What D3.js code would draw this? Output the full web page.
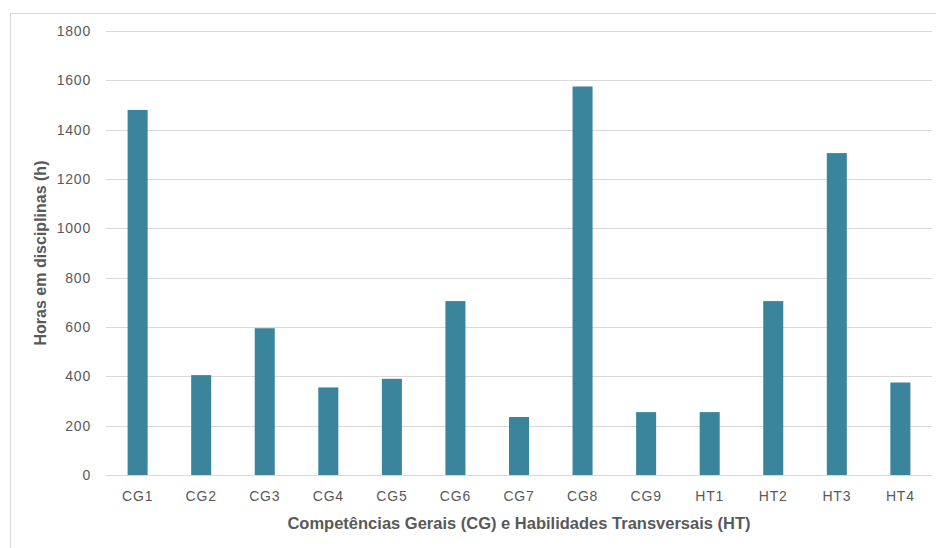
<!DOCTYPE html>
<html>
<head>
<meta charset="utf-8">
<script src="https://cdn.jsdelivr.net/npm/d3@7"></script>
<style>
  html, body { margin: 0; padding: 0; background: #fff; }
  svg { display: block; }
  text { font-family: "Liberation Sans", Arial, sans-serif; }
</style>
</head>
<body>
<svg id="chart" width="936" height="548"></svg>
<script>
// Hours of coursework per competence / transversal skill
const categories = ["CG1","CG2","CG3","CG4","CG5","CG6","CG7","CG8","CG9","HT1","HT2","HT3","HT4"];
const hours = [1480, 405, 595, 355, 390, 705, 235, 1575, 255, 255, 705, 1305, 375];
const yTicks = [0, 200, 400, 600, 800, 1000, 1200, 1400, 1600, 1800];

const svg = d3.select("#chart");
const W = 936, H = 548;
const m = { left: 106, right: 4, top: 31, bottom: 73 };

// chart frame
svg.append("rect")
  .attr("x", 10.5).attr("y", 13.5)
  .attr("width", W + 10).attr("height", H + 10)
  .attr("fill", "none").attr("stroke", "#d9d9d9").attr("stroke-width", 1);

const x = d3.scaleBand()
  .domain(categories)
  .range([m.left, W - m.right])
  .paddingInner(0.685)
  .paddingOuter(0.34);

const y = d3.scaleLinear()
  .domain([0, 1800])
  .range([H - m.bottom, m.top]);

// horizontal gridlines
svg.append("g")
  .selectAll("line")
  .data(yTicks)
  .join("line")
  .attr("x1", m.left).attr("x2", W - m.right)
  .attr("y1", d => Math.round(y(d)) + 0.5)
  .attr("y2", d => Math.round(y(d)) + 0.5)
  .attr("stroke", "#d9d9d9").attr("stroke-width", 1);

// y axis labels
const yAxis = d3.axisLeft(y).tickValues(yTicks).tickFormat(d3.format("d")).tickSize(0).tickPadding(15);
const gy = svg.append("g").attr("transform", `translate(${m.left},0)`).call(yAxis);
gy.select(".domain").remove();
gy.selectAll("text")
  .attr("fill", "#595959")
  .style("font-size", "14px")
  .style("letter-spacing", "0.8px");

// bars
svg.append("g")
  .selectAll("rect")
  .data(categories.map((c, i) => ({ c, v: hours[i] })))
  .join("rect")
  .attr("x", d => x(d.c))
  .attr("width", x.bandwidth())
  .attr("y", d => y(d.v))
  .attr("height", d => y(0) - y(d.v))
  .attr("fill", "#3a849c");

// x axis labels
const xAxis = d3.axisBottom(x).tickSize(0).tickPadding(16);
const gx = svg.append("g").attr("transform", `translate(0,${y(0)})`).call(xAxis);
gx.select(".domain").remove();
gx.selectAll("text")
  .attr("fill", "#595959")
  .style("font-size", "14px")
  .style("letter-spacing", "0.8px");

// axis titles
svg.append("text")
  .attr("x", (m.left + W - m.right) / 2)
  .attr("y", 529)
  .attr("text-anchor", "middle")
  .attr("fill", "#595959")
  .style("font-size", "16.5px")
  .style("font-weight", "bold")
  .text("Competências Gerais (CG) e Habilidades Transversais (HT)");

svg.append("text")
  .attr("transform", `translate(46,${(m.top + H - m.bottom) / 2}) rotate(-90)`)
  .attr("text-anchor", "middle")
  .attr("fill", "#595959")
  .style("font-size", "16px")
  .style("font-weight", "bold")
  .text("Horas em disciplinas (h)");
</script>
</body>
</html>
